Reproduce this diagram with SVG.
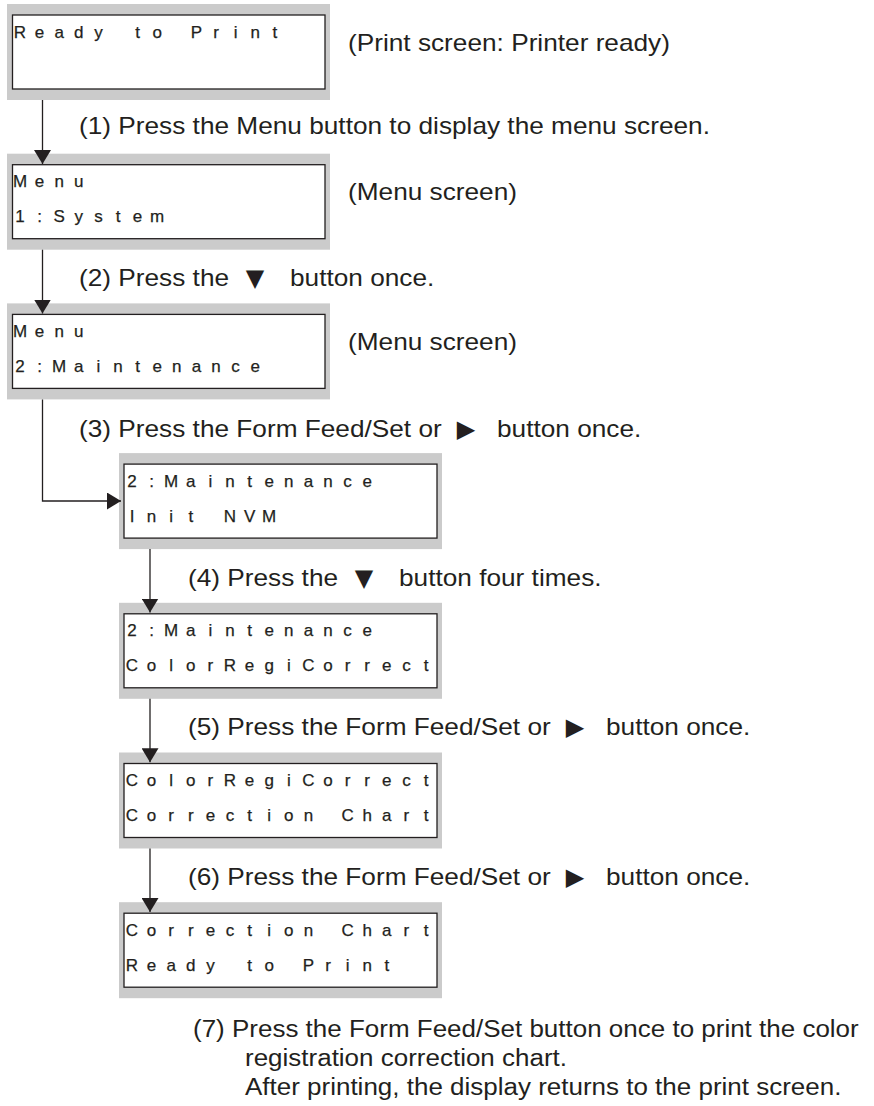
<svg xmlns="http://www.w3.org/2000/svg" width="874" height="1106" viewBox="0 0 874 1106">
<style>
.bg{fill:#ffffff}
.shade{fill:#cbcbcb}
.lcdbox{fill:#ffffff;stroke:#231f20;stroke-width:1.3}
.lcd{font-family:"Liberation Sans",Arial,sans-serif;font-size:17px;fill:#231f20;stroke:#231f20;stroke-width:0.25;text-anchor:middle}
.st{font-family:"Liberation Sans",Arial,sans-serif;font-size:23px;fill:#231f20}
.sym{font-family:"DejaVu Sans",sans-serif;font-size:24px;fill:#231f20;text-anchor:middle}
.conn{fill:none;stroke:#231f20;stroke-width:1.3}
</style>
<defs>
<marker id="ah" viewBox="0 0 14 17" refX="14" refY="8.5" markerUnits="userSpaceOnUse" markerWidth="14" markerHeight="17" orient="auto">
<path d="M0,0 L14,8.5 L0,17 Z" fill="#231f20"/>
</marker>
</defs>
<rect class="bg" x="0" y="0" width="874" height="1106"/>

<g id="screen1">
<rect class="shade" x="7" y="4" width="323" height="96"/>
<rect class="lcdbox" x="12.5" y="15" width="312.5" height="74"/>
<text class="lcd" x="20 39.6 59.2 78.8 98.4 118 137.6 157.2 176.8 196.4 216 235.6 255.2 274.8" y="37.5">Ready to Print</text>
<text class="st" transform="translate(348,50.5) scale(1.14,1)">(Print screen: Printer ready)</text>
</g>

<g id="step1">
<text class="st" transform="translate(79,134) scale(1.14,1)">(1) Press the Menu button to display the menu screen.</text>
</g>

<g id="screen2">
<rect class="shade" x="7" y="153.7" width="323" height="96"/>
<rect class="lcdbox" x="12.5" y="164.7" width="312.5" height="74"/>
<text class="lcd" x="20 39.6 59.2 78.8" y="187.2">Menu</text>
<text class="lcd" x="20 39.6 59.2 78.8 98.4 118 137.6 157.2" y="222.2">1:System</text>
<text class="st" transform="translate(348,200) scale(1.14,1)">(Menu screen)</text>
</g>

<g id="step2">
<text class="st" transform="translate(79,286) scale(1.14,1)">(2) Press the</text>
<text class="sym" x="255" y="286">▼</text>
<text class="st" transform="translate(290,286) scale(1.14,1)">button once.</text>
</g>

<g id="screen3">
<rect class="shade" x="7" y="303.4" width="323" height="96"/>
<rect class="lcdbox" x="12.5" y="314.4" width="312.5" height="74"/>
<text class="lcd" x="20 39.6 59.2 78.8" y="336.9">Menu</text>
<text class="lcd" x="20 39.6 59.2 78.8 98.4 118 137.6 157.2 176.8 196.4 216 235.6 255.2" y="371.9">2:Maintenance</text>
<text class="st" transform="translate(348,350) scale(1.14,1)">(Menu screen)</text>
</g>

<g id="step3">
<text class="st" transform="translate(79,437) scale(1.14,1)">(3) Press the Form Feed/Set or</text>
<text class="sym" x="466" y="437">▶</text>
<text class="st" transform="translate(497,437) scale(1.14,1)">button once.</text>
</g>

<g id="screen4">
<rect class="shade" x="119" y="453.1" width="323" height="96"/>
<rect class="lcdbox" x="124" y="464.1" width="313" height="74"/>
<text class="lcd" x="132 151.6 171.2 190.8 210.4 230 249.6 269.2 288.8 308.4 328 347.6 367.2" y="486.6">2:Maintenance</text>
<text class="lcd" x="132 151.6 171.2 190.8 210.4 230 249.6 269.2" y="521.6">Init NVM</text>
</g>

<g id="step4">
<text class="st" transform="translate(188,586) scale(1.14,1)">(4) Press the</text>
<text class="sym" x="364" y="586">▼</text>
<text class="st" transform="translate(399,586) scale(1.14,1)">button four times.</text>
</g>

<g id="screen5">
<rect class="shade" x="119" y="602.8" width="323" height="96"/>
<rect class="lcdbox" x="124" y="613.8" width="313" height="74"/>
<text class="lcd" x="132 151.6 171.2 190.8 210.4 230 249.6 269.2 288.8 308.4 328 347.6 367.2" y="636.3">2:Maintenance</text>
<text class="lcd" x="132 151.6 171.2 190.8 210.4 230 249.6 269.2 288.8 308.4 328 347.6 367.2 386.8 406.4 426" y="671.3">ColorRegiCorrect</text>
</g>

<g id="step5">
<text class="st" transform="translate(188,735) scale(1.14,1)">(5) Press the Form Feed/Set or</text>
<text class="sym" x="575" y="735">▶</text>
<text class="st" transform="translate(606,735) scale(1.14,1)">button once.</text>
</g>

<g id="screen6">
<rect class="shade" x="119" y="752.5" width="323" height="96"/>
<rect class="lcdbox" x="124" y="763.5" width="313" height="74"/>
<text class="lcd" x="132 151.6 171.2 190.8 210.4 230 249.6 269.2 288.8 308.4 328 347.6 367.2 386.8 406.4 426" y="786">ColorRegiCorrect</text>
<text class="lcd" x="132 151.6 171.2 190.8 210.4 230 249.6 269.2 288.8 308.4 328 347.6 367.2 386.8 406.4 426" y="821">Correction Chart</text>
</g>

<g id="step6">
<text class="st" transform="translate(188,885) scale(1.14,1)">(6) Press the Form Feed/Set or</text>
<text class="sym" x="575" y="885">▶</text>
<text class="st" transform="translate(606,885) scale(1.14,1)">button once.</text>
</g>

<g id="screen7">
<rect class="shade" x="119" y="902.2" width="323" height="96"/>
<rect class="lcdbox" x="124" y="913.2" width="313" height="74"/>
<text class="lcd" x="132 151.6 171.2 190.8 210.4 230 249.6 269.2 288.8 308.4 328 347.6 367.2 386.8 406.4 426" y="935.7">Correction Chart</text>
<text class="lcd" x="132 151.6 171.2 190.8 210.4 230 249.6 269.2 288.8 308.4 328 347.6 367.2 386.8" y="970.7">Ready to Print</text>
</g>

<g id="step7">
<text class="st" transform="translate(193,1037) scale(1.13,1)">(7) Press the Form Feed/Set button once to print the color</text>
<text class="st" transform="translate(245,1066) scale(1.13,1)">registration correction chart.</text>
<text class="st" transform="translate(245,1095) scale(1.13,1)">After printing, the display returns to the print screen.</text>
</g>

<g id="connectors">
<path class="conn" d="M42.5,100 V164" marker-end="url(#ah)"/>
<path class="conn" d="M42.5,249.7 V313.5" marker-end="url(#ah)"/>
<path class="conn" d="M42.5,399.4 V501 H121" marker-end="url(#ah)"/>
<path class="conn" d="M150,549.1 V612.5" marker-end="url(#ah)"/>
<path class="conn" d="M150,698.8 V762.3" marker-end="url(#ah)"/>
<path class="conn" d="M150,848.5 V912" marker-end="url(#ah)"/>
</g>
</svg>
